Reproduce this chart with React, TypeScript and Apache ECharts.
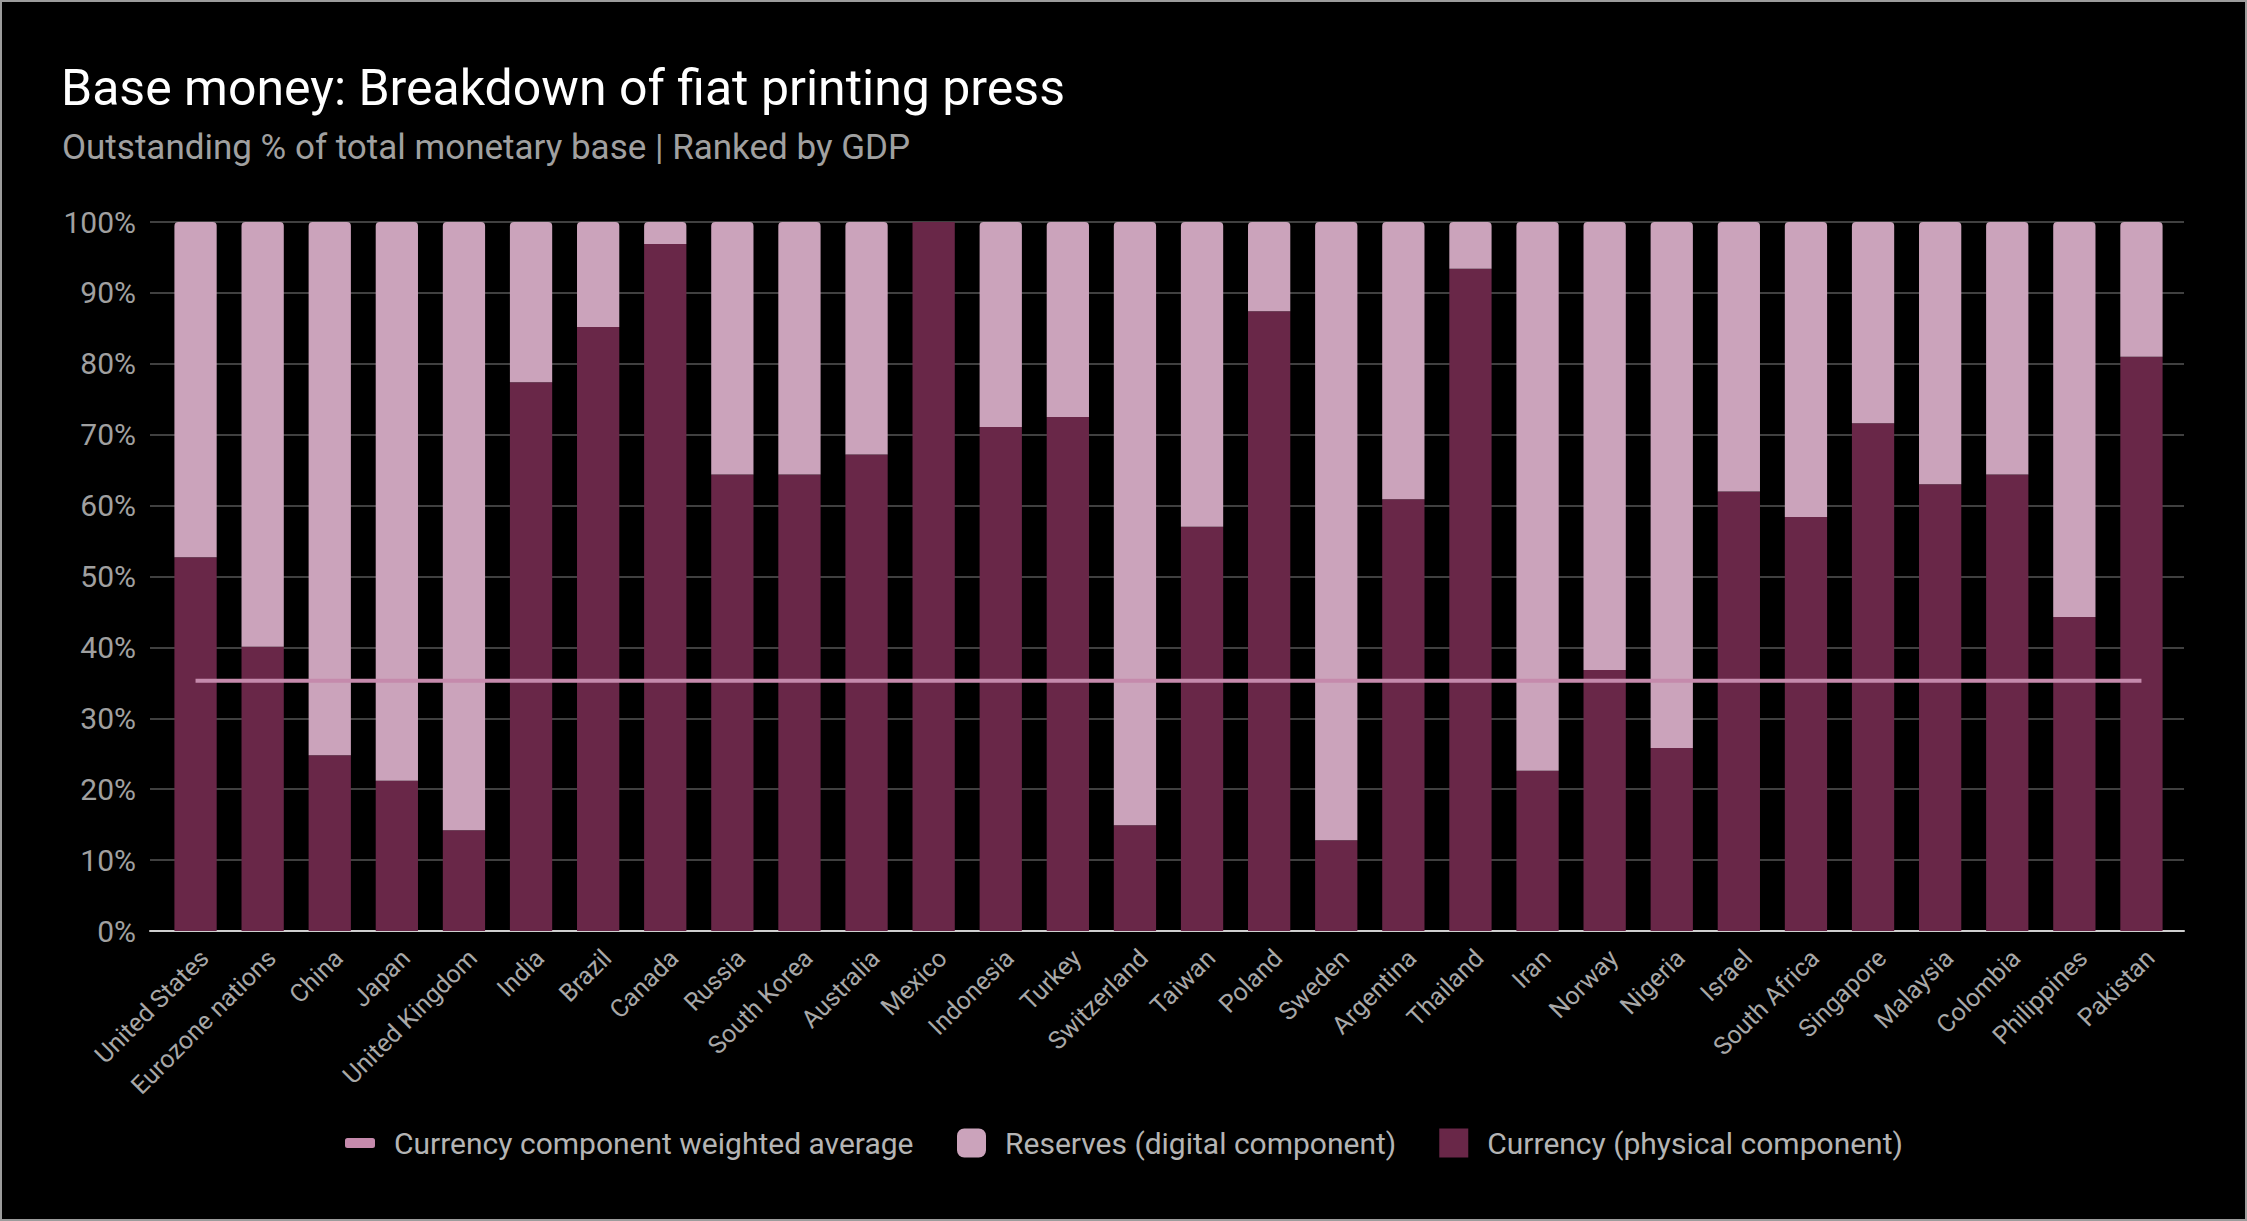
import React, { useEffect, useRef } from "react";
import * as echarts from "echarts";

const countries = [
  "United States", "Eurozone nations", "China", "Japan", "United Kingdom", "India", "Brazil", "Canada",
  "Russia", "South Korea", "Australia", "Mexico", "Indonesia", "Turkey", "Switzerland", "Taiwan",
  "Poland", "Sweden", "Argentina", "Thailand", "Iran", "Norway", "Nigeria", "Israel",
  "South Africa", "Singapore", "Malaysia", "Colombia", "Philippines", "Pakistan",
];

const currencyPhysical = [
  52.7, 40.1, 24.8, 21.2, 14.2, 77.4, 85.2, 96.9,
  64.4, 64.4, 67.2, 100.0, 71.1, 72.5, 14.9, 57.0,
  87.4, 12.8, 60.9, 93.4, 22.6, 36.8, 25.8, 62.0,
  58.4, 71.6, 63.0, 64.4, 44.3, 81.0,
];

const reservesDigital = [
  47.3, 59.9, 75.2, 78.8, 85.8, 22.6, 14.8, 3.1,
  35.6, 35.6, 32.8, 0.0, 28.9, 27.5, 85.1, 43.0,
  12.6, 87.2, 39.1, 6.6, 77.4, 63.2, 74.2, 38.0,
  41.6, 28.4, 37.0, 35.6, 55.7, 19.0,
];

const weightedAverage = [
  35.3, 35.3, 35.3, 35.3, 35.3, 35.3, 35.3, 35.3, 35.3, 35.3,
  35.3, 35.3, 35.3, 35.3, 35.3, 35.3, 35.3, 35.3, 35.3, 35.3,
  35.3, 35.3, 35.3, 35.3, 35.3, 35.3, 35.3, 35.3, 35.3, 35.3,
];

const yTicks = [0, 10, 20, 30, 40, 50, 60, 70, 80, 90, 100];

const AVG_NAME = "Currency component weighted average";
const RES_NAME = "Reserves (digital component)";
const CUR_NAME = "Currency (physical component)";

const COL_CUR = "#692748";
const COL_RES = "#cba3bb";
const COL_AVG = "#c58aac";
const FONT = "Roboto";

export default function App() {
  const ref = useRef<HTMLDivElement>(null);

  useEffect(() => {
    if (!ref.current) return;
    const chart = echarts.init(ref.current, undefined, { renderer: "svg" });
    const legendText = {
      color: "#b4b4b4",
      fontSize: 30,
      fontFamily: FONT,
      padding: [0, 0, 0, 14],
    };
    const option: any = {
      animation: false,
      backgroundColor: "#000000",
      textStyle: { fontFamily: FONT },
      title: [
        {
          text: "Base money: Breakdown of fiat printing press",
          left: 61,
          top: 63,
          padding: 0,
          textStyle: { color: "#ffffff", fontSize: 50, fontWeight: "normal", fontFamily: FONT },
        },
        {
          text: "Outstanding % of total monetary base | Ranked by GDP",
          left: 62,
          top: 130,
          padding: 0,
          textStyle: { color: "#a0a0a0", fontSize: 35, fontWeight: "normal", fontFamily: FONT },
        },
      ],
      legend: [
        {
          data: [{ name: AVG_NAME, icon: "roundRect" }],
          left: 340,
          top: 1123,
          itemWidth: 30,
          itemHeight: 10,
          textStyle: legendText,
        },
        {
          data: [
            { name: RES_NAME, icon: "roundRect" },
            { name: CUR_NAME, icon: "rect" },
          ],
          left: 952,
          top: 1123,
          itemWidth: 29,
          itemHeight: 29,
          itemGap: 43,
          textStyle: legendText,
        },
      ],
      grid: [
        { left: 150, right: 63, top: 222, bottom: 290, containLabel: false },
        { left: 162, right: 72, top: 222, bottom: 290, containLabel: false },
      ],
      xAxis: [
        {
          type: "value",
          gridIndex: 0,
          min: 0,
          max: 1,
          axisLine: { show: true, lineStyle: { color: "#cfcfcf", width: 2 } },
          axisTick: { show: false },
          axisLabel: { show: false },
          splitLine: { show: false },
        },
        {
          type: "category",
          gridIndex: 1,
          data: countries,
          axisLine: { show: false },
          axisTick: { show: false },
          axisLabel: {
            rotate: 45,
            interval: 0,
            margin: 14,
            verticalAlign: "top",
            color: "#a8a8a8",
            fontSize: 25,
            fontFamily: FONT,
          },
        },
      ],
      yAxis: [
        {
          type: "value",
          gridIndex: 0,
          min: 0,
          max: 100,
          interval: 10,
          axisLine: { show: false },
          axisTick: { show: false },
          axisLabel: {
            color: "#a0a0a0",
            fontSize: 30,
            margin: 14,
            fontFamily: FONT,
            formatter: (v: number) => (yTicks.includes(v) ? v + "%" : ""),
          },
          splitLine: { lineStyle: { color: "#404040", width: 2 } },
        },
        {
          type: "value",
          gridIndex: 1,
          min: 0,
          max: 100,
          interval: 10,
          show: false,
          splitLine: { show: false },
        },
      ],
      series: [
        {
          name: CUR_NAME,
          type: "bar",
          xAxisIndex: 1,
          yAxisIndex: 1,
          stack: "total",
          data: currencyPhysical,
          barWidth: "63%",
          itemStyle: { color: COL_CUR },
        },
        {
          name: RES_NAME,
          type: "bar",
          xAxisIndex: 1,
          yAxisIndex: 1,
          stack: "total",
          data: reservesDigital,
          barWidth: "63%",
          itemStyle: { color: COL_RES, borderRadius: [4, 4, 0, 0] },
        },
        {
          name: AVG_NAME,
          type: "line",
          xAxisIndex: 1,
          yAxisIndex: 1,
          data: weightedAverage,
          symbol: "none",
          lineStyle: { color: COL_AVG, width: 4 },
          itemStyle: { color: COL_AVG },
          z: 5,
        },
      ],
    };
    chart.setOption(option);
    return () => chart.dispose();
  }, []);

  return (
    <div
      style={{
        position: "fixed",
        left: 0,
        top: 0,
        width: 2247,
        height: 1221,
        background: "#000",
      }}
    >
      <div ref={ref} style={{ position: "absolute", left: 0, top: 0, width: 2247, height: 1221 }} />
      <div
        style={{
          position: "absolute",
          left: 0,
          top: 0,
          width: 2247,
          height: 1221,
          boxSizing: "border-box",
          border: "2px solid #9c9c9c",
          pointerEvents: "none",
        }}
      />
    </div>
  );
}
